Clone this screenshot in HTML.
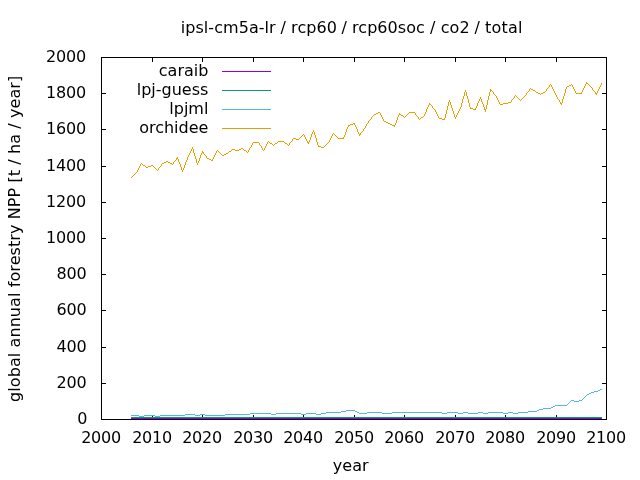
<!DOCTYPE html>
<html><head><meta charset="utf-8"><title>plot</title>
<style>
html,body{margin:0;padding:0;background:#fff;}
svg{display:block;}
text{font-family:"DejaVu Sans","Liberation Sans",sans-serif;font-size:16px;fill:#000;}
</style></head><body>
<svg width="640" height="480" viewBox="0 0 640 480">
<rect width="640" height="480" fill="#fff"/>

<path d="M101 419h5v1h-5zM602 419h5v1h-5zM101 383h5v1h-5zM602 383h5v1h-5zM101 347h5v1h-5zM602 347h5v1h-5zM101 310h5v1h-5zM602 310h5v1h-5zM101 274h5v1h-5zM602 274h5v1h-5zM101 238h5v1h-5zM602 238h5v1h-5zM101 202h5v1h-5zM602 202h5v1h-5zM101 166h5v1h-5zM602 166h5v1h-5zM101 129h5v1h-5zM602 129h5v1h-5zM101 93h5v1h-5zM602 93h5v1h-5zM101 57h5v1h-5zM602 57h5v1h-5zM101 415h1v5h-1zM101 57h1v5h-1zM152 415h1v5h-1zM152 57h1v5h-1zM202 415h1v5h-1zM202 57h1v5h-1zM253 415h1v5h-1zM253 57h1v5h-1zM303 415h1v5h-1zM303 57h1v5h-1zM354 415h1v5h-1zM354 57h1v5h-1zM404 415h1v5h-1zM404 57h1v5h-1zM455 415h1v5h-1zM455 57h1v5h-1zM505 415h1v5h-1zM505 57h1v5h-1zM556 415h1v5h-1zM556 57h1v5h-1zM606 415h1v5h-1zM606 57h1v5h-1z" fill="#000" shape-rendering="crispEdges"/>
<text x="77.2" y="424" letter-spacing="-0.18">0</text>
<text x="56.5" y="388" letter-spacing="-0.18">200</text>
<text x="56.5" y="352" letter-spacing="-0.18">400</text>
<text x="56.5" y="315" letter-spacing="-0.18">600</text>
<text x="56.5" y="279" letter-spacing="-0.18">800</text>
<text x="46.0" y="243" letter-spacing="-0.18">1000</text>
<text x="46.0" y="207" letter-spacing="-0.18">1200</text>
<text x="46.0" y="171" letter-spacing="-0.18">1400</text>
<text x="46.0" y="134" letter-spacing="-0.18">1600</text>
<text x="46.0" y="98" letter-spacing="-0.18">1800</text>
<text x="46.0" y="62" letter-spacing="-0.18">2000</text>
<text x="81.14" y="443" letter-spacing="-0.18">2000</text>
<text x="132.14" y="443" letter-spacing="-0.18">2010</text>
<text x="182.14" y="443" letter-spacing="-0.18">2020</text>
<text x="233.14" y="443" letter-spacing="-0.18">2030</text>
<text x="283.14" y="443" letter-spacing="-0.18">2040</text>
<text x="334.14" y="443" letter-spacing="-0.18">2050</text>
<text x="384.14" y="443" letter-spacing="-0.18">2060</text>
<text x="435.14" y="443" letter-spacing="-0.18">2070</text>
<text x="485.14" y="443" letter-spacing="-0.18">2080</text>
<text x="536.14" y="443" letter-spacing="-0.18">2090</text>
<text x="586.14" y="443" letter-spacing="-0.18">2100</text>
<text y="32.5" style="white-space:pre"><tspan x="180.7" letter-spacing="0.06">ipsl-cm5a-lr </tspan><tspan x="280.5" letter-spacing="0">/ </tspan><tspan x="291.1" letter-spacing="0.06">rcp60 </tspan><tspan x="341.4" letter-spacing="0">/ </tspan><tspan x="352.0" letter-spacing="0.06">rcp60soc </tspan><tspan x="430.1" letter-spacing="0">/ </tspan><tspan x="440.7" letter-spacing="0.06">co2 </tspan><tspan x="474.5" letter-spacing="0">/ </tspan><tspan x="484.9" letter-spacing="0.25">total</tspan></text>
<text x="350.7" y="471" text-anchor="middle">year</text>
<text transform="translate(19.9,402.0) rotate(-90)" textLength="326.3" lengthAdjust="spacing">global annual forestry NPP [t / ha / year]</text>
<text x="208.4" y="76.1" text-anchor="end">caraib</text>
<path d="M222 71h49v1h-49z" fill="#9400D3" shape-rendering="crispEdges"/>
<text x="208.4" y="95.1" text-anchor="end">lpj-guess</text>
<path d="M222 90h49v1h-49z" fill="#009E73" shape-rendering="crispEdges"/>
<text x="208.4" y="114.1" text-anchor="end">lpjml</text>
<path d="M222 109h49v1h-49z" fill="#56B4E9" shape-rendering="crispEdges"/>
<text x="208.4" y="133.1" text-anchor="end">orchidee</text>
<path d="M222 128h49v1h-49z" fill="#E69F00" shape-rendering="crispEdges"/>
<path d="M131 418h471v1h-471z" fill="#9400D3" shape-rendering="crispEdges"/>
<path d="M131 417h471v1h-471z" fill="#009E73" shape-rendering="crispEdges"/>
<path d="M553 406h2v1h-2zM326 412h15v1h-15zM357 412h2v1h-2zM367 412h15v1h-15zM392 412h50v1h-50zM447 412h11v1h-11zM463 412h5v1h-5zM478 412h5v1h-5zM488 412h15v1h-15zM508 412h5v1h-5zM518 412h10v1h-10zM341 411h5v1h-5zM355 411h2v1h-2zM528 411h9v1h-9zM131 415h8v1h-8zM144 415h11v1h-11zM160 415h25v1h-25zM195 415h5v1h-5zM205 415h20v1h-20zM185 414h10v1h-10zM200 414h5v1h-5zM225 414h25v1h-25zM271 414h5v1h-5zM301 414h5v1h-5zM316 414h5v1h-5zM139 416h5v1h-5zM155 416h5v1h-5zM591 392h3v1h-3zM346 410h9v1h-9zM537 410h2v1h-2zM539 409h4v1h-4zM250 413h21v1h-21zM276 413h25v1h-25zM306 413h10v1h-10zM321 413h5v1h-5zM359 413h8v1h-8zM382 413h10v1h-10zM442 413h5v1h-5zM458 413h5v1h-5zM468 413h10v1h-10zM483 413h5v1h-5zM503 413h5v1h-5zM513 413h5v1h-5zM555 405h12v1h-12zM543 408h8v1h-8zM571 400h3v1h-3zM579 400h3v1h-3zM587 394h2v1h-2zM574 401h5v1h-5zM594 391h4v1h-4zM598 390h2v1h-2zM589 393h2v1h-2zM600 389h2v1h-2zM551 407h2v1h-2zM584 397h1v1h-1zM569 402h1v1h-1zM583 398h1v1h-1zM585 396h1v1h-1zM568 403h1v1h-1zM582 399h1v1h-1zM570 401h1v1h-1zM586 395h1v1h-1zM567 404h1v1h-1z" fill="#56B4E9" shape-rendering="crispEdges"/>
<path d="M378 112h2v1h-2zM409 112h6v1h-6zM473 109h3v1h-3zM484 109h2v1h-2zM146 167h2v1h-2zM531 89h2v1h-2zM421 117h2v1h-2zM270 143h2v1h-2zM275 143h2v1h-2zM285 143h2v1h-2zM296 139h3v1h-3zM253 142h6v1h-6zM307 142h2v1h-2zM536 92h2v1h-2zM543 92h2v1h-2zM401 115h2v1h-2zM164 162h2v1h-2zM168 162h2v1h-2zM176 158h2v1h-2zM207 158h2v1h-2zM143 165h2v1h-2zM151 165h2v1h-2zM470 108h3v1h-3zM538 93h2v1h-2zM541 93h2v1h-2zM576 93h6v1h-6zM595 93h2v1h-2zM162 163h2v1h-2zM170 163h2v1h-2zM232 149h3v1h-3zM239 149h2v1h-2zM209 159h2v1h-2zM374 114h2v1h-2zM399 114h2v1h-2zM442 119h3v1h-3zM490 90h2v1h-2zM533 90h2v1h-2zM148 166h3v1h-3zM226 153h2v1h-2zM353 123h2v1h-2zM388 123h2v1h-2zM321 147h3v1h-3zM429 104h2v1h-2zM500 104h3v1h-3zM202 152h2v1h-2zM439 118h3v1h-3zM350 124h3v1h-3zM390 124h2v1h-2zM586 83h2v1h-2zM241 148h2v1h-2zM224 154h2v1h-2zM376 113h2v1h-2zM211 160h2v1h-2zM508 102h3v1h-3zM293 138h3v1h-3zM338 138h6v1h-6zM229 151h2v1h-2zM166 161h2v1h-2zM384 121h2v1h-2zM222 155h2v1h-2zM348 125h2v1h-2zM392 125h3v1h-3zM359 134h2v1h-2zM503 103h5v1h-5zM560 103h2v1h-2zM235 150h4v1h-4zM244 150h2v1h-2zM278 141h6v1h-6zM318 146h3v1h-3zM569 85h2v1h-2zM386 122h2v1h-2zM567 86h2v1h-2zM273 145h1v1h-1zM468 99h1v4h-1zM453 111h1v3h-1zM529 89h1v2h-1zM445 114h1v4h-1zM327 143h1v1h-1zM488 96h1v4h-1zM277 142h1v1h-1zM498 100h1v2h-1zM140 164h1v2h-1zM575 91h1v2h-1zM361 132h1v1h-1zM364 128h1v1h-1zM345 132h1v3h-1zM373 115h1v1h-1zM494 94h1v1h-1zM185 162h1v3h-1zM475 108h1v1h-1zM495 95h1v1h-1zM315 135h1v3h-1zM197 163h1v2h-1zM178 159h1v3h-1zM598 89h1v2h-1zM380 113h1v2h-1zM200 155h1v3h-1zM487 100h1v5h-1zM383 119h1v2h-1zM582 90h1v2h-1zM139 166h1v2h-1zM465 90h1v2h-1zM184 165h1v3h-1zM215 153h1v2h-1zM449 100h1v2h-1zM269 142h1v1h-1zM181 167h1v3h-1zM250 147h1v1h-1zM448 102h1v4h-1zM272 144h1v1h-1zM193 149h1v4h-1zM525 95h1v1h-1zM311 134h1v3h-1zM131 177h1v1h-1zM418 117h1v2h-1zM292 139h1v2h-1zM354 124h1v1h-1zM464 92h1v4h-1zM346 129h1v3h-1zM357 129h1v3h-1zM452 108h1v3h-1zM189 153h1v2h-1zM399 113h1v1h-1zM486 105h1v4h-1zM459 109h1v2h-1zM513 98h1v1h-1zM299 138h1v1h-1zM310 137h1v3h-1zM395 123h1v2h-1zM196 159h1v4h-1zM174 161h1v1h-1zM177 157h1v1h-1zM398 115h1v2h-1zM368 121h1v2h-1zM261 146h1v2h-1zM371 117h1v2h-1zM356 127h1v2h-1zM528 91h1v1h-1zM548 87h1v1h-1zM330 138h1v2h-1zM490 89h1v1h-1zM490 91h1v1h-1zM417 116h1v1h-1zM479 99h1v2h-1zM574 89h1v2h-1zM456 115h1v2h-1zM597 91h1v2h-1zM406 115h1v1h-1zM586 82h1v1h-1zM199 158h1v3h-1zM325 145h1v1h-1zM497 98h1v2h-1zM157 170h1v1h-1zM592 88h1v2h-1zM337 137h1v1h-1zM447 106h1v4h-1zM520 100h1v1h-1zM306 139h1v2h-1zM593 90h1v1h-1zM565 89h1v4h-1zM562 99h1v4h-1zM429 103h1v1h-1zM260 145h1v1h-1zM303 134h1v1h-1zM314 132h1v3h-1zM344 135h1v2h-1zM485 110h1v2h-1zM191 149h1v2h-1zM467 96h1v3h-1zM397 117h1v3h-1zM573 87h1v2h-1zM183 168h1v2h-1zM428 105h1v2h-1zM214 155h1v2h-1zM493 92h1v2h-1zM367 123h1v1h-1zM249 148h1v2h-1zM555 93h1v2h-1zM558 99h1v1h-1zM463 96h1v3h-1zM466 92h1v4h-1zM329 140h1v2h-1zM478 101h1v2h-1zM287 144h1v1h-1zM585 84h1v2h-1zM596 94h1v1h-1zM363 129h1v2h-1zM355 125h1v2h-1zM458 111h1v2h-1zM394 126h1v1h-1zM462 99h1v4h-1zM546 89h1v2h-1zM557 97h1v2h-1zM423 116h1v1h-1zM317 142h1v3h-1zM370 119h1v1h-1zM581 92h1v1h-1zM267 142h1v2h-1zM138 168h1v2h-1zM561 104h1v1h-1zM489 92h1v4h-1zM469 103h1v4h-1zM554 91h1v2h-1zM133 175h1v1h-1zM305 137h1v2h-1zM470 107h1v1h-1zM218 151h1v1h-1zM263 150h1v1h-1zM213 157h1v2h-1zM432 106h1v2h-1zM182 170h1v2h-1zM194 153h1v3h-1zM309 140h1v2h-1zM301 136h1v1h-1zM477 103h1v3h-1zM289 143h1v2h-1zM248 150h1v2h-1zM461 103h1v4h-1zM512 99h1v1h-1zM176 159h1v1h-1zM187 157h1v3h-1zM324 146h1v1h-1zM451 105h1v3h-1zM190 151h1v2h-1zM316 138h1v4h-1zM496 96h1v2h-1zM252 143h1v2h-1zM308 143h1v1h-1zM584 86h1v2h-1zM480 97h1v2h-1zM527 92h1v1h-1zM594 91h1v1h-1zM446 110h1v4h-1zM217 150h1v1h-1zM343 137h1v1h-1zM457 113h1v2h-1zM396 120h1v3h-1zM595 92h1v1h-1zM259 143h1v2h-1zM427 107h1v2h-1zM262 148h1v2h-1zM545 91h1v1h-1zM408 113h1v1h-1zM145 166h1v1h-1zM366 124h1v2h-1zM431 105h1v1h-1zM484 107h1v2h-1zM515 95h1v1h-1zM572 85h1v2h-1zM556 95h1v2h-1zM553 89h1v2h-1zM304 135h1v2h-1zM274 144h1v1h-1zM307 141h1v1h-1zM530 88h1v1h-1zM266 144h1v2h-1zM564 93h1v3h-1zM438 116h1v2h-1zM522 98h1v1h-1zM483 104h1v3h-1zM135 173h1v1h-1zM559 100h1v2h-1zM369 120h1v1h-1zM571 84h1v1h-1zM159 167h1v1h-1zM560 102h1v1h-1zM426 109h1v3h-1zM563 96h1v3h-1zM552 87h1v2h-1zM132 176h1v1h-1zM365 126h1v2h-1zM601 83h1v2h-1zM186 160h1v2h-1zM476 106h1v2h-1zM288 145h1v1h-1zM231 150h1v1h-1zM360 133h1v1h-1zM300 137h1v1h-1zM583 88h1v2h-1zM173 162h1v2h-1zM415 113h1v2h-1zM216 151h1v2h-1zM265 146h1v2h-1zM212 159h1v1h-1zM444 118h1v1h-1zM291 141h1v1h-1zM460 107h1v2h-1zM437 114h1v2h-1zM514 96h1v2h-1zM326 144h1v1h-1zM158 168h1v2h-1zM433 108h1v1h-1zM180 164h1v3h-1zM372 116h1v1h-1zM318 145h1v1h-1zM153 166h1v1h-1zM333 133h1v1h-1zM154 167h1v1h-1zM334 134h1v1h-1zM524 96h1v1h-1zM188 155h1v2h-1zM284 142h1v1h-1zM551 85h1v2h-1zM348 126h1v1h-1zM219 152h1v1h-1zM455 117h1v2h-1zM203 153h1v1h-1zM161 164h1v2h-1zM540 94h1v1h-1zM204 154h1v1h-1zM425 112h1v2h-1zM436 112h1v2h-1zM566 87h1v2h-1zM516 96h1v1h-1zM482 102h1v2h-1zM600 85h1v2h-1zM517 97h1v1h-1zM192 147h1v2h-1zM195 156h1v3h-1zM589 85h1v1h-1zM547 88h1v1h-1zM359 135h1v1h-1zM137 170h1v2h-1zM454 114h1v3h-1zM435 110h1v2h-1zM405 116h1v1h-1zM172 164h1v1h-1zM264 148h1v2h-1zM535 91h1v1h-1zM134 174h1v1h-1zM481 99h1v3h-1zM588 84h1v1h-1zM179 162h1v2h-1zM302 135h1v1h-1zM420 118h1v1h-1zM550 84h1v1h-1zM362 131h1v1h-1zM424 114h1v2h-1zM202 151h1v1h-1zM382 117h1v2h-1zM511 100h1v2h-1zM142 164h1v1h-1zM332 134h1v2h-1zM313 130h1v2h-1zM206 156h1v2h-1zM268 141h1v1h-1zM198 161h1v2h-1zM599 87h1v2h-1zM416 115h1v1h-1zM328 142h1v1h-1zM141 163h1v1h-1zM450 102h1v3h-1zM523 97h1v1h-1zM290 142h1v1h-1zM156 169h1v1h-1zM336 136h1v1h-1zM358 132h1v2h-1zM381 115h1v2h-1zM160 166h1v1h-1zM175 160h1v1h-1zM251 145h1v2h-1zM526 93h1v2h-1zM201 153h1v2h-1zM549 85h1v2h-1zM347 127h1v2h-1zM335 135h1v1h-1zM499 102h1v2h-1zM519 99h1v1h-1zM331 136h1v2h-1zM492 91h1v1h-1zM312 132h1v2h-1zM407 114h1v1h-1zM220 153h1v1h-1zM221 154h1v1h-1zM434 109h1v1h-1zM404 117h1v1h-1zM205 155h1v1h-1zM155 168h1v1h-1zM228 152h1v1h-1zM419 119h1v1h-1zM518 98h1v1h-1zM590 86h1v1h-1zM243 149h1v1h-1zM136 172h1v1h-1zM246 151h1v1h-1zM403 116h1v1h-1zM591 87h1v1h-1zM521 99h1v1h-1zM247 152h1v1h-1z" fill="#E69F00" shape-rendering="crispEdges"/>
<path d="M101 57h506v363h-506zM102 58v361h504v-361z" fill="#000" fill-rule="evenodd" shape-rendering="crispEdges"/>
</svg></body></html>
